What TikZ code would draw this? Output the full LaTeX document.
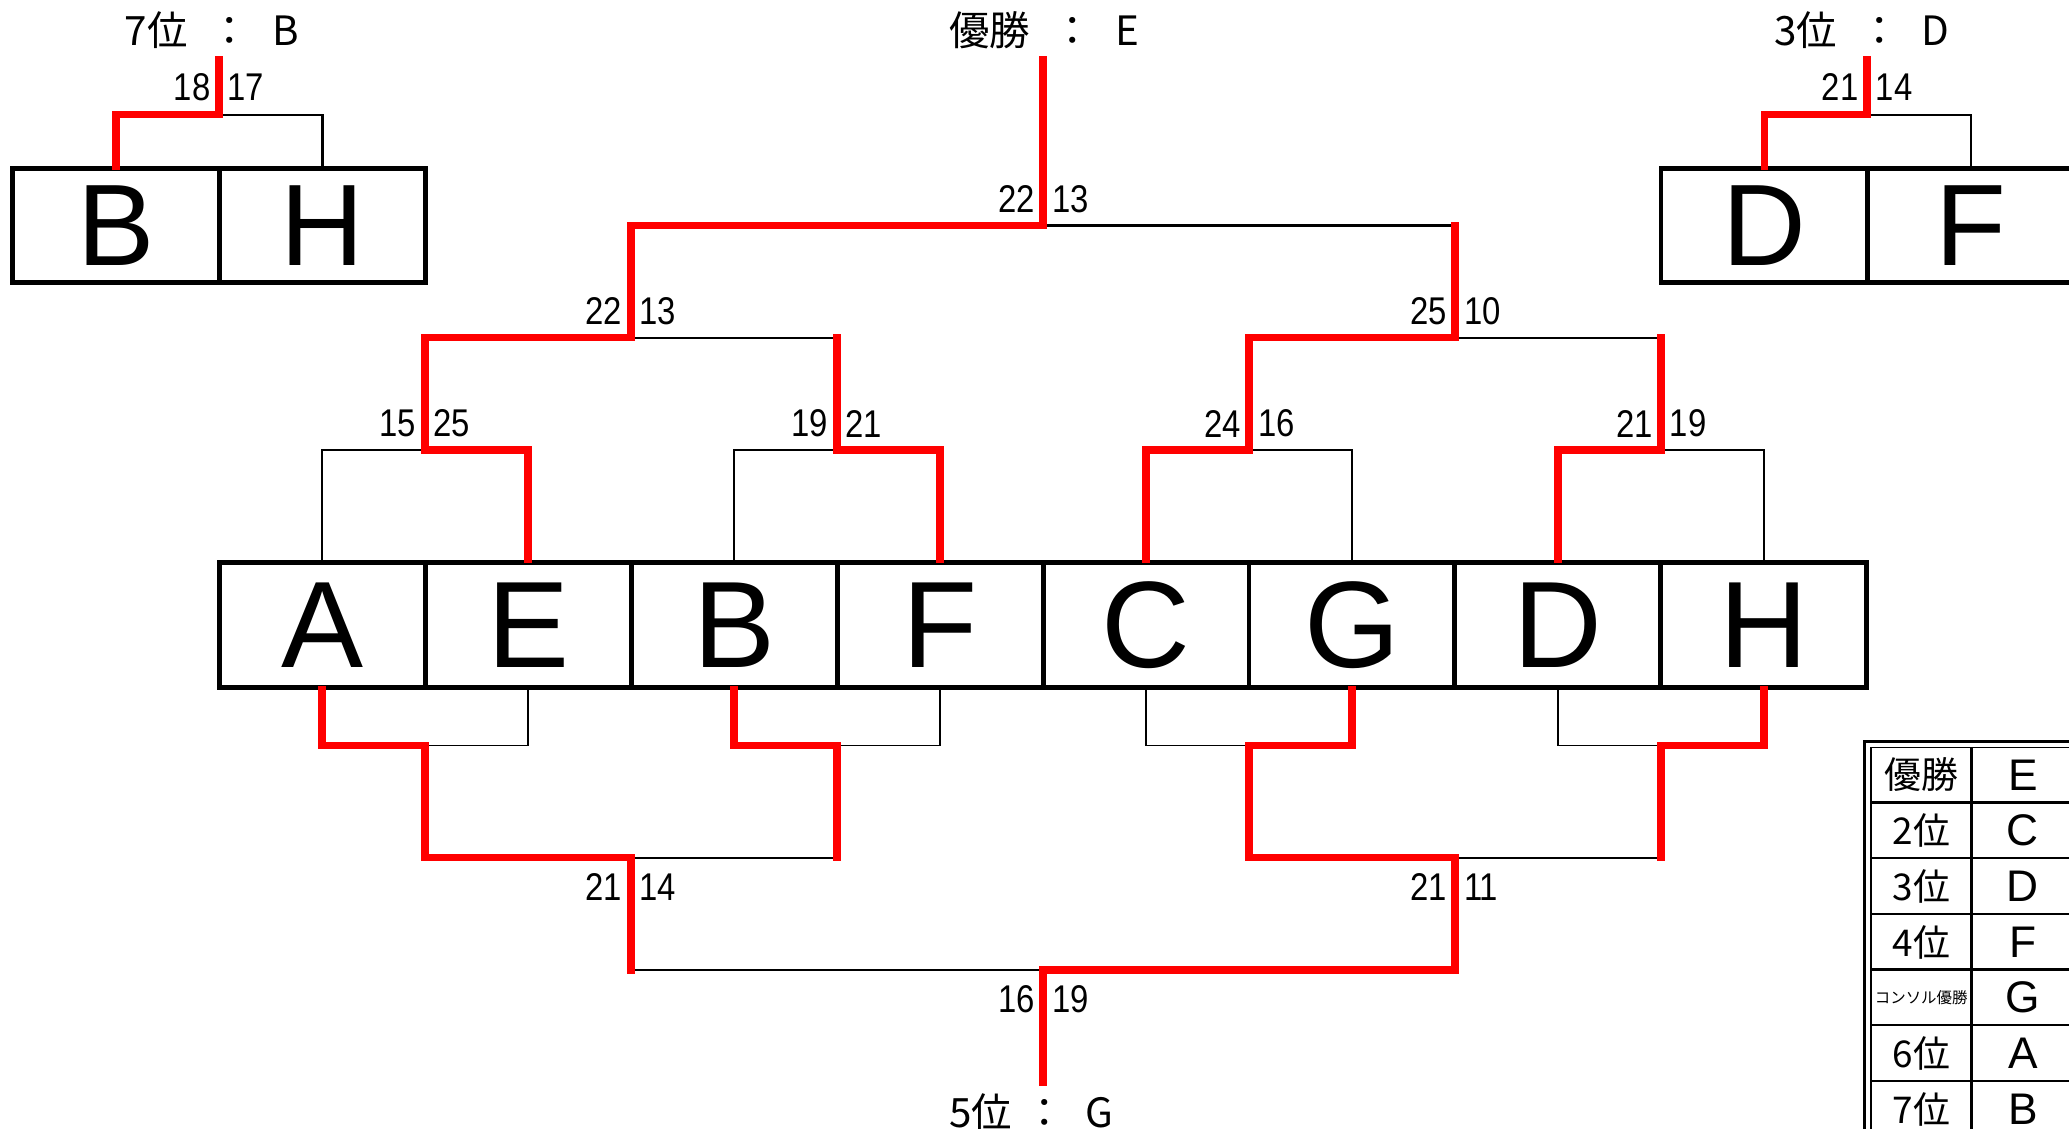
\documentclass[tikz,border=0pt]{standalone}
\usepackage{fontspec}
\setmainfont{Liberation Sans}
\newfontfamily\jpfont{Noto Sans CJK JP}
\newfontfamily\scorefont[FakeStretch=0.85]{Liberation Sans}
\usepackage{tikz}

\tikzset{
  cell/.style={draw, line width=1.4pt, minimum width=58.6pt, minimum height=35.7pt, inner sep=0pt, font=\fontsize{35}{35}\selectfont},
  mcell/.style={cell, minimum width=58.75pt, minimum height=32.3pt, font=\fontsize{33}{33}\selectfont},
  win/.style={draw=red, line width=2.1pt, line cap=rect},
  lose/.style={draw=black, line width=0.65pt},
  hair/.style={draw=black, line width=0.35pt},
  scl/.style={font=\scorefont\fontsize{11}{11}\selectfont, inner sep=0pt, anchor=east},
  scr/.style={scl, anchor=west},
  head/.style={font=\jpfont\fontsize{11.5}{12}\selectfont, inner sep=0pt, anchor=west},
  rk/.style={font=\jpfont\fontsize{10.5}{12}\selectfont, inner sep=0pt},
  rv/.style={font=\fontsize{12.6}{13}\selectfont, inner sep=0pt},
}

\begin{document}
\begin{tikzpicture}[x=0.013195cm, y=-0.013195cm]
\clip (0,0) rectangle (1568,855);

% main draw
\foreach \l [count=\i from 0] in {A,E,B,F,C,G,D,H}
  \node[cell] (\l) at ({244.1+156.1*\i},473.5) {\l};

\coordinate (r1a) at (322.1,341);  \coordinate (r1b) at (634.4,341);
\coordinate (r1c) at (946.6,341);  \coordinate (r1d) at (1258.9,341);
\coordinate (r2a) at (478.2,256);  \coordinate (r2b) at (1102.8,256);
\coordinate (fin) at (790.5,171);  \coordinate (top) at (790.5,45);

\draw[lose] (A.north) |- (r1a) -| (E.north);
\draw[lose] (B.north) |- (r1b) -| (F.north);
\draw[lose] (C.north) |- (r1c) -| (G.north);
\draw[lose] (D.north) |- (r1d) -| (H.north);
\draw[lose] (r1a) |- (r2a) -| (r1b);
\draw[lose] (r1c) |- (r2b) -| (r1d);
\draw[lose] (r2a) |- (fin) -| (r2b);

\draw[win] (E.north) |- (r1a) |- (r2a) |- (fin) -- (top);
\draw[win] (F.north) |- (r1b) -- (r1b |- r2a);
\draw[win] (C.north) |- (r1c) |- (r2b) -- (r2b |- fin);
\draw[win] (D.north) |- (r1d) -- (r1d |- r2b);

\node[scl] (s1l) at (316,321) {15};   \node[scr] (s1r) at (328,321) {25};
\node[scl] (s2l) at (628,321) {19};   \node[scr] (s2r) at (640,321) {21};
\node[scl] (s3l) at (941,321) {24};   \node[scr] (s3r) at (953,321) {16};
\node[scl] (s4l) at (1253,321) {21};  \node[scr] (s4r) at (1265,321) {19};
\node[scl] (s5l) at (472,236) {22};   \node[scr] (s5r) at (484,236) {13};
\node[scl] (s6l) at (1097,236) {25};  \node[scr] (s6r) at (1109,236) {10};
\node[scl] (s7l) at (785,151) {22};   \node[scr] (s7r) at (797,151) {13};

% consolation
\coordinate (b1a) at (322.1,565);  \coordinate (b1b) at (634.4,565);
\coordinate (b1c) at (946.6,565);  \coordinate (b1d) at (1258.9,565);
\coordinate (b2a) at (478.2,650);  \coordinate (b2b) at (1102.8,650);
\coordinate (bfin) at (790.5,735); \coordinate (bot) at (790.5,820);

\draw[hair] (A.south) |- (b1a) -| (E.south);
\draw[hair] (B.south) |- (b1b) -| (F.south);
\draw[hair] (C.south) |- (b1c) -| (G.south);
\draw[hair] (D.south) |- (b1d) -| (H.south);
\draw[lose] (b1a) |- (b2a) -| (b1b);
\draw[lose] (b1c) |- (b2b) -| (b1d);
\draw[lose] (b2a) |- (bfin) -| (b2b);

\draw[win] (A.south) |- (b1a) |- (b2a) -- (b2a |- bfin);
\draw[win] (B.south) |- (b1b) -- (b1b |- b2a);
\draw[win] (G.south) |- (b1c) |- (b2b) |- (bfin) -- (bot);
\draw[win] (H.south) |- (b1d) -- (b1d |- b2b);

\node[scl] (c1l) at (472,672) {21};   \node[scr] (c1r) at (484,672) {14};
\node[scl] (c2l) at (1097,672) {21};  \node[scr] (c2r) at (1109,672) {11};
\node[scl] (c3l) at (785,757) {16};   \node[scr] (c3r) at (797,757) {19};

% 7th place
\node[mcell] (tB) at (87.8,171) {B};
\node[mcell] (tH) at (244.3,171) {H};
\coordinate (s7) at (166,87); \coordinate (s7top) at (166,45);
\draw[lose] (tB.north) |- (s7) -| (tH.north);
\draw[win] (tB.north) |- (s7) -- (s7top);
\node[scl] (p7l) at (160,66) {18};  \node[scr] (p7r) at (172,66) {17};

% 3rd place
\node[mcell] (rD) at (1337,171) {D};
\node[mcell] (rF) at (1493.5,171) {F};
\coordinate (s3) at (1415,87); \coordinate (s3top) at (1415,45);
\draw[lose] (rD.north) |- (s3) -| (rF.north);
\draw[win] (rD.north) |- (s3) -- (s3top);
\node[scl] (p3l) at (1409,66) {21};  \node[scr] (p3r) at (1421,66) {14};

\node[head] (h7) at (94,23) {7位\hspace{0.55em}：\hspace{0.55em}B};
\node[head] (h1) at (719,23) {優勝\hspace{0.55em}：\hspace{0.55em}E};
\node[head] (h3) at (1344,23) {3位\hspace{0.55em}：\hspace{0.55em}D};
\node[head] (h5) at (719,843) {5位\hspace{0.3em}：\hspace{0.5em}G};

% ranking table
\draw[line width=1.1pt] (1413,870) |- (1580,562);
\draw[line width=0.5pt] (1418,870) |- (1580,566.5);
\draw[line width=0.7pt] (1494,566) -- (1494,870);
\foreach \y in {608.2,650.4,692.6,734.8,777,819.2}
  \draw[line width=0.7pt] (1418,\y) -- (1580,\y);
\foreach \k/\v [count=\i from 0] in {優勝/E,2位/C,3位/D,4位/F,{\fontsize{4.4}{5}\selectfont コンソル優勝}/G,6位/A,7位/B} {
  \node[rk] (rk\i) at (1456,{587.3+42.2*\i}) {\k};
  \node[rv] (rv\i) at (1533,{587.3+42.2*\i}) {\v};
}
\end{tikzpicture}
\end{document}
